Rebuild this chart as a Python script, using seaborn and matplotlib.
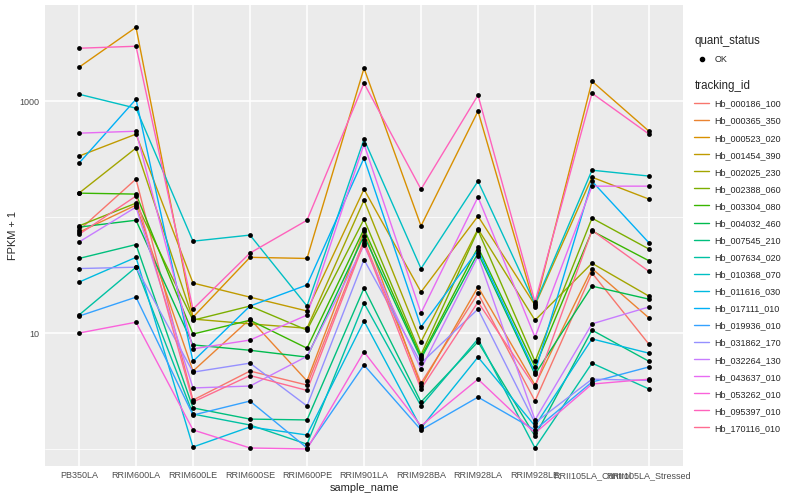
import matplotlib
matplotlib.use("Agg")
import matplotlib.pyplot as plt
import seaborn as sns
import pandas as pd
from matplotlib.ticker import FixedLocator, NullFormatter
from matplotlib.lines import Line2D

# samples in plot order
samples = ["PB350LA", "RRIM600LA", "RRIM600LE", "RRIM600SE", "RRIM600PE", "RRIM901LA",
           "RRIM928BA", "RRIM928LA", "RRIM928LE", "RRII105LA_Control", "RRII105LA_Stressed"]

# FPKM per gene, same order as samples
hb_000186_100 = [76, 212, 1.64, 3.7, 2.56, 62, 2.7, 21, 1.59, 32, 7.0]
hb_000365_350 = [73, 126, 3.7, 12.2, 2.86, 75, 2.49, 24, 2.56, 35, 12.5]
hb_000523_020 = [1962, 4344, 12.7, 44, 43, 1924, 83, 819, 15.8, 1486, 550]
hb_001454_390 = [335, 519, 26, 19.4, 14.5, 173, 21.6, 101, 16.4, 220, 142]
hb_002025_230 = [160, 393, 12.2, 11.0, 10.0, 139, 7.4, 78, 11.9, 39, 19.8]
hb_002388_060 = [83, 131, 11.9, 16.1, 9.6, 95, 5.5, 76, 4.7, 97, 52]
hb_003304_080 = [160, 157, 8.8, 11.9, 6.4, 78, 5.2, 54, 4.1, 75, 41]
hb_004032_460 = [81, 93, 6.9, 6.1, 5.2, 68, 5.0, 48, 3.4, 24.4, 18.6]
hb_007545_210 = [43, 57, 1.26, 0.81, 0.78, 23.4, 1.54, 7.4, 0.29, 9.6, 4.7]
hb_007634_020 = [13.3, 36, 1.0, 0.61, 0.10, 17.1, 1.35, 7.9, 0.02, 4.5, 2.29]
hb_010368_070 = [1148, 869, 61, 69, 16.1, 469, 35, 203, 16.8, 253, 225]
hb_011616_030 = [26.5, 44, 0.04, 0.55, 0.32, 11.7, 0.52, 5.2, 0.58, 7.9, 5.7]
hb_017111_010 = [291, 1039, 4.7, 16.1, 25, 322, 10.3, 51, 3.6, 203, 59]
hb_019936_010 = [13.0, 19.4, 0.96, 1.59, 0.02, 4.3, 0.46, 1.8, 0.46, 2.78, 4.1]
hb_031862_170 = [35, 36, 3.6, 4.5, 1.35, 42, 4.5, 15.1, 0.68, 3.0, 2.9]
hb_032264_130 = [60, 121, 2.36, 2.49, 5.3, 56, 3.9, 45, 0.78, 11.0, 15.8]
hb_043637_010 = [529, 550, 6.3, 7.7, 13.3, 425, 13.9, 148, 8.2, 184, 184]
hb_053262_010 = [9.0, 11.4, 0.46, 0.02, 0.0, 5.9, 0.58, 3.0, 0.37, 2.63, 3.0]
hb_095397_010 = [2863, 2979, 15.1, 48, 93, 1429, 173, 1126, 17.5, 1171, 519]
hb_170116_010 = [70, 151, 1.54, 3.3, 2.2, 59, 2.29, 17.5, 2.42, 76, 33]

genes = {
    "Hb_000186_100": hb_000186_100, "Hb_000365_350": hb_000365_350,
    "Hb_000523_020": hb_000523_020, "Hb_001454_390": hb_001454_390,
    "Hb_002025_230": hb_002025_230, "Hb_002388_060": hb_002388_060,
    "Hb_003304_080": hb_003304_080, "Hb_004032_460": hb_004032_460,
    "Hb_007545_210": hb_007545_210, "Hb_007634_020": hb_007634_020,
    "Hb_010368_070": hb_010368_070, "Hb_011616_030": hb_011616_030,
    "Hb_017111_010": hb_017111_010, "Hb_019936_010": hb_019936_010,
    "Hb_031862_170": hb_031862_170, "Hb_032264_130": hb_032264_130,
    "Hb_043637_010": hb_043637_010, "Hb_053262_010": hb_053262_010,
    "Hb_095397_010": hb_095397_010, "Hb_170116_010": hb_170116_010,
}

# ggplot default hue palette for 20 levels
colors = ["#F8766D", "#EA8331", "#D89000", "#C09B00", "#A3A500", "#7CAE00", "#39B600",
          "#00BB4E", "#00BF7D", "#00C1A3", "#00BFC4", "#00BAE0", "#00B0F6", "#35A2FF",
          "#9590FF", "#C77CFF", "#E76BF3", "#FA62DB", "#FF62BC", "#FF6C91"]

rows = []
for gid, vals in genes.items():
    for s, v in zip(samples, vals):
        rows.append({"tracking_id": gid, "sample_name": s, "fpkm": v, "quant_status": "OK"})
df = pd.DataFrame(rows)
df["fpkm1"] = df["fpkm"] + 1

sns.set_style("darkgrid", {"axes.facecolor": "#EBEBEB", "grid.color": "white"})
plt.rcParams["font.family"] = ["Liberation Sans", "DejaVu Sans"]

fig, ax = plt.subplots(figsize=(8, 5), dpi=100)
fig.subplots_adjust(left=0.056, right=0.854, top=0.99, bottom=0.068)

palette = dict(zip(genes.keys(), colors))
sns.lineplot(data=df, x="sample_name", y="fpkm1", hue="tracking_id", palette=palette,
             estimator=None, sort=False, lw=1.0, legend=False, ax=ax)
sns.scatterplot(data=df, x="sample_name", y="fpkm1", color="black", s=12,
                linewidth=0, legend=False, ax=ax, zorder=3)

ax.set_yscale("log")
ax.set_ylim(10 ** -0.147, 10 ** 3.83)
ax.set_xlim(-0.6, 10.6)
ax.yaxis.set_major_locator(FixedLocator([10, 1000]))
ax.yaxis.set_minor_locator(FixedLocator([1, 100]))
ax.yaxis.set_minor_formatter(NullFormatter())
ax.set_yticklabels(["10", "1000"])
ax.grid(which="major", color="white", lw=1.1)
ax.grid(which="minor", axis="y", color="white", lw=0.55)
ax.tick_params(which="minor", length=0)
ax.tick_params(which="major", length=2.2, width=0.7, color="#333333",
               labelsize=6.5, labelcolor="#4D4D4D", pad=1.5)
for sp in ax.spines.values():
    sp.set_visible(False)
ax.set_xlabel("sample_name", fontsize=7.9, labelpad=2)
ax.set_ylabel("FPKM + 1", fontsize=7.9, labelpad=1)

# legends
leg_kw = dict(loc="upper left", frameon=False, fontsize=6.5, title_fontsize=8.3,
              alignment="left", borderpad=0, borderaxespad=0, handlelength=1.6,
              handleheight=1.0, handletextpad=0.6, labelspacing=0.88)
h1 = [Line2D([], [], marker="o", color="black", linestyle="none", markersize=3)]
fig.legend(h1, ["OK"], title="quant_status", bbox_to_anchor=(0.868, 0.93), **leg_kw)
h2 = [Line2D([], [], color=c, lw=1.0) for c in colors]
fig.legend(h2, list(genes.keys()), title="tracking_id", bbox_to_anchor=(0.868, 0.841), **leg_kw)

fig.savefig("out.png", dpi=100)
